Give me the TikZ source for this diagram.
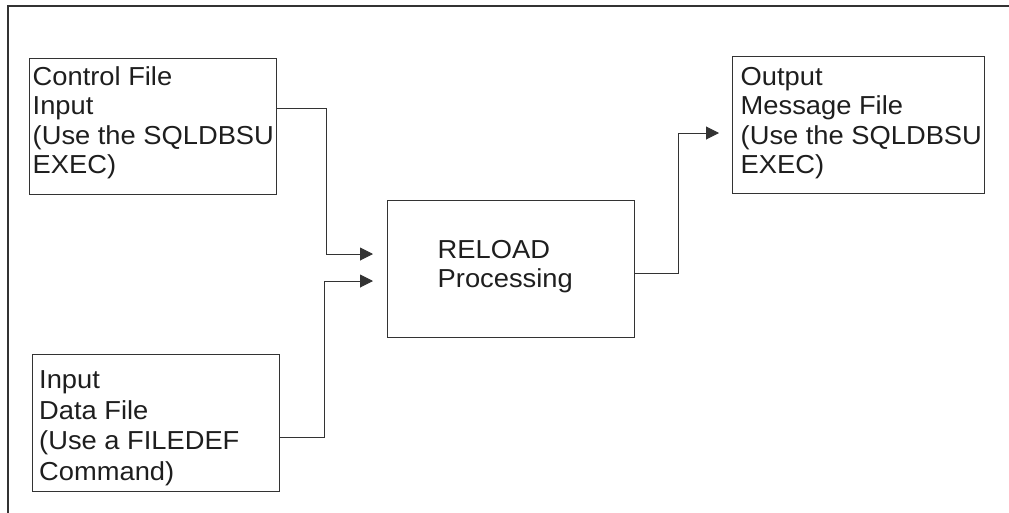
\documentclass[tikz,border=0pt]{standalone}
\usepackage{fontspec}
\setmainfont{Liberation Sans}[FakeStretch=1.05]
\usetikzlibrary{arrows.meta,calc}
\definecolor{ln}{HTML}{333333}
\definecolor{tx}{HTML}{1E1E1E}
\tikzset{
  boxshape/.style={draw=ln, line width=1pt, inner sep=0pt, anchor=north west},
  lbl/.style={anchor=base west, inner sep=0pt, align=left, text=tx,
    font=\fontsize{26}{29.5}\selectfont},
  conn/.style={draw=ln, line width=1pt, -{Triangle[length=13pt,width=13pt]}},
}
\begin{document}
\begin{tikzpicture}[x=1pt,y=-1pt]
\useasboundingbox (0,0) rectangle (1009,512);
\draw[ln, line width=1.5pt] (8,513) -- (8,6) -- (1010,6);
% boxes
\node[boxshape, minimum width=247pt, minimum height=136pt] (ctrl) at (29,58) {};
\node[boxshape, minimum width=247pt, minimum height=137pt] (inp) at (32,354) {};
\node[boxshape, minimum width=247pt, minimum height=137pt] (rel) at (387,200) {};
\node[boxshape, minimum width=252pt, minimum height=137pt] (out) at (732,56) {};
% texts (anchor = baseline of the last line)
\node[lbl] (ctrltxt) at (32.5,173.5) {Control File\\Input\\(Use the SQLDBSU\\EXEC)};
\node[lbl, font=\fontsize{26}{30.8}\selectfont] (inptxt) at (39,480.7) {Input\\Data File\\(Use a FILEDEF\\Command)};
\node[lbl, font=\fontsize{26}{29}\selectfont] (reltxt) at (437.5,287) {RELOAD\\Processing};
\node[lbl] (outtxt) at (740.5,173.5) {Output\\Message File\\(Use the SQLDBSU\\EXEC)};
% connector points
\coordinate (c1s) at (ctrl.east |- 0,108);
\coordinate (c1e) at (373,254);
\coordinate (c2s) at (inp.east |- 0,437);
\coordinate (c2e) at (373,281);
\coordinate (c3s) at (rel.east |- 0,273);
\coordinate (c3e) at (719,133);
\draw[conn] (c1s) -- (326,108) -- (326,254) -- (c1e);
\draw[conn] (c2s) -- (324,437) -- (324,281) -- (c2e);
\draw[conn] (c3s) -- (678,273) -- (678,133) -- (c3e);
\end{tikzpicture}
\end{document}
